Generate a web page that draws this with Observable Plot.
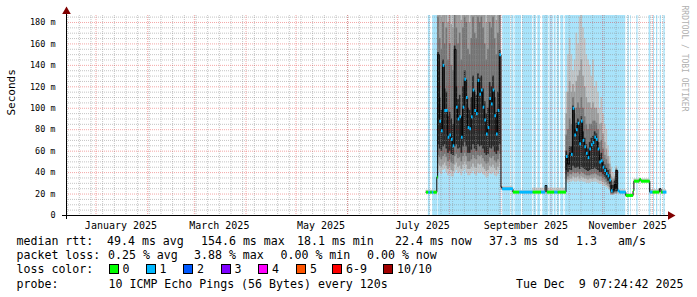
<!DOCTYPE html>
<html><head><meta charset="utf-8">
<script src="https://cdn.jsdelivr.net/npm/d3@7"></script>
<script src="https://cdn.jsdelivr.net/npm/@observablehq/plot@0.6"></script>
<style>
body{margin:0;background:#fff;}
#wrap{position:relative;width:697px;height:297px;font-family:"DejaVu Sans Mono",monospace;overflow:hidden;}
#wrap svg{position:absolute;left:0;top:0;}
.lg{position:absolute;font-size:11.6px;white-space:pre;line-height:14px;color:#000;}
.sq{display:inline-block;width:8px;height:8px;border:1px solid #000;vertical-align:-1px;margin-right:4px;}
</style></head><body><div id="wrap"></div>
<script>
// ---------- data ----------
const startTime = "2024-12-14T07:24:42Z";
const endTime = "2025-12-09T07:24:42Z";
const yMax = 186.5;
const yTicks = [0, 20, 40, 60, 80, 100, 120, 140, 160, 180];
const xLabelMonths = ["2025-01-01", "2025-03-01", "2025-05-01", "2025-07-01", "2025-09-01", "2025-11-01"];

// periods with loss background (1/10 lost)
const lossBands = [
  ["2025-07-19T10:00Z","2025-07-20T14:00Z"],["2025-07-22T00:00Z","2025-07-24T22:00Z"],
  ["2025-07-25T05:00Z","2025-09-01T10:00Z"],["2025-09-02T01:00Z","2025-09-06T20:00Z"],
  ["2025-09-07T10:00Z","2025-09-08T19:00Z"],["2025-09-09T10:00Z","2025-09-13T07:00Z"],
  ["2025-09-14T01:00Z","2025-09-20T01:00Z"],["2025-09-20T17:00Z","2025-09-22T07:00Z"],
  ["2025-09-23T02:00Z","2025-09-24T17:00Z"],["2025-09-26T02:00Z","2025-09-29T17:00Z"],
  ["2025-09-30T07:00Z","2025-10-02T08:00Z"],["2025-10-02T22:00Z","2025-10-04T03:00Z"],
  ["2025-10-04T18:00Z","2025-10-06T03:00Z"],["2025-10-06T21:00Z","2025-10-08T17:00Z"],
  ["2025-10-09T13:00Z","2025-11-14T21:00Z"],["2025-11-16T05:00Z","2025-11-17T00:00Z"],
  ["2025-11-17T21:00Z","2025-11-18T07:00Z"],["2025-11-21T12:00Z","2025-11-22T06:00Z"],
  ["2025-11-28T21:00Z","2025-11-29T21:00Z"],["2025-12-01T12:00Z","2025-12-02T03:00Z"],
  ["2025-12-03T07:00Z","2025-12-04T02:00Z"],["2025-12-05T13:00Z","2025-12-06T07:00Z"],
  ["2025-12-07T17:00Z","2025-12-08T13:00Z"]
];

// high-latency period 1, daily from 2025-07-25 (ms)
const r1Start = "2025-07-25";
const r1Median = [150,88,79,140,98,98,73,75,71,65,155,101,90,92,73,101,127,110,82,81,92,117,98,95,126,113,117,101,89,76,82,109,104,117,93,76,98,150];
const r1CoreLo = [66,62,60,64,66,62,58,60,57,56,64,66,62,63,58,64,68,64,58,58,61,66,62,60,66,64,65,62,58,56,57,63,62,64,59,57,60,66];
const r1CoreHi = [152,110,98,145,118,115,92,96,90,85,158,120,108,112,92,120,135,126,100,98,110,130,115,112,132,128,130,118,106,95,100,124,120,130,110,96,115,154];
const r1InLo   = [56,54,52,55,57,54,50,52,49,48,55,57,53,54,50,55,58,55,50,50,52,56,53,52,56,55,56,53,50,48,49,54,53,55,51,49,52,57];
const r1InHi   = [185,165,155,180,160,175,145,160,140,135,195,175,160,170,145,175,185,180,155,150,165,185,170,165,185,180,185,175,160,145,155,180,175,185,165,150,170,195];
const r1MidLo  = [48,46,45,47,49,46,43,45,42,41,47,49,45,46,43,47,50,47,43,43,45,48,45,44,48,47,48,45,43,41,42,46,45,47,44,42,45,49];
const r1MidHi  = [200,200,185,200,195,200,180,200,178,175,200,200,195,200,182,200,200,200,190,180,200,200,200,195,200,200,200,200,195,180,190,200,200,200,200,182,200,200];
const r1OutLo  = [42,40,38,42,43,40,37,39,36,36,40,42,39,40,37,41,43,40,37,37,39,41,38,37,40,39,40,38,37,35,36,39,38,40,37,36,38,42];
const r1OutHi  = [200,200,200,200,200,200,200,200,200,200,200,200,200,200,200,200,200,200,200,200,200,200,200,200,200,200,200,200,200,200,200,200,200,200,200,200,200,200];
const r1Dot    = [0,1,1,1,1,1,1,1,1,1,0,1,1,1,1,1,1,1,1,1,1,1,1,1,1,1,1,1,1,1,1,1,1,1,1,1,1,1];

// high-latency period 2, daily from 2025-10-10 (ms)
const r2Start = "2025-10-10";
const r2Median = [55,48,58,57,100,75,80,86,67,88,70,64,58,54,62,66,68,73,71,62,50,51,45,42,39,37,33,23,24,29,42];
const r2CoreLo = [42,40,42,42,46,44,44,45,43,45,44,43,42,41,42,43,43,44,43,42,40,40,38,36,34,32,29,21,21,22,22];
const r2CoreHi = [60,56,64,64,102,80,86,90,76,92,78,72,66,62,68,72,74,78,76,68,56,58,50,47,44,42,38,28,28,32,42];
const r2InLo   = [38,36,38,38,40,39,39,40,38,40,39,38,37,37,37,38,38,39,38,37,36,36,34,33,31,29,26,20,20,21,21];
const r2InHi   = [75,80,90,85,110,95,100,105,100,110,100,92,85,80,85,85,88,88,86,80,68,70,62,56,52,48,43,32,31,34,43];
const r2MidLo  = [34,33,34,34,36,35,35,36,34,36,35,34,34,33,34,34,34,35,34,33,32,32,31,30,28,27,24,19,19,20,20];
const r2MidHi  = [95,115,125,115,122,115,125,130,135,145,130,120,110,105,105,100,105,100,100,95,85,86,76,68,62,55,48,36,34,36,44];
const r2OutLo  = [31,30,31,31,32,31,31,32,31,32,31,31,30,30,30,31,31,31,31,30,29,29,28,27,26,25,23,19,19,20,20];
const r2OutHi  = [115,150,165,150,135,145,170,160,185,195,175,165,150,145,140,130,145,120,125,115,100,110,95,85,80,65,55,45,40,38,46];
const r2Dot    = [1,0,0,1,1,1,1,1,1,1,1,1,1,1,1,1,1,1,1,1,1,1,1,1,1,1,1,1,0,0,0];

// low-latency median steps: [time, median ms, loss count (0 or 1; -1 = no colour)]
const lowMedian = [
  ["2025-07-18T00:00Z",21.7,0],["2025-07-19T10:00Z",21.7,1],["2025-07-20T14:00Z",21.7,0],
  ["2025-07-21T12:00Z",21.7,1],["2025-07-22T12:00Z",21.7,0],["2025-07-24T12:00Z",35.7,0],
  ["2025-09-01T00:00Z",26.4,-1],["2025-09-01T16:00Z",24.9,1],["2025-09-08T04:00Z",21.8,0],
  ["2025-09-12T00:00Z",21.8,1],["2025-09-20T00:00Z",21.8,0],["2025-09-25T00:00Z",21.8,1],
  ["2025-09-27T12:00Z",28,-1],["2025-09-28T12:00Z",21.8,0],["2025-10-03T00:00Z",21.8,1],
  ["2025-10-05T00:00Z",21.8,0],
  ["2025-11-09T00:00Z",25,-1],["2025-11-10T00:00Z",23,1],["2025-11-11T00:00Z",21.8,1],
  ["2025-11-14T21:00Z",18.7,0],["2025-11-19T06:00Z",23,0],["2025-11-19T18:00Z",32,0],
  ["2025-11-23T00:00Z",33.5,0],["2025-11-24T00:00Z",32,0],["2025-11-29T06:00Z",21.8,1],
  ["2025-12-01T00:00Z",21.8,0],["2025-12-05T00:00Z",25,-1],["2025-12-06T00:00Z",21.8,0],
  ["2025-12-07T00:00Z",21.8,1],["2025-12-09T07:00Z",21.8,0]
];
// thin smoke in quiet periods: [from, to, low ms, high ms]
const thinSmoke = [
  ["2025-07-18T00:00Z","2025-07-24T12:00Z",20.5,23.5],["2025-09-01T00:00Z","2025-09-08T04:00Z",23.5,27],
  ["2025-09-08T04:00Z","2025-09-20T00:00Z",20.8,23],["2025-09-20T00:00Z","2025-10-09T17:00Z",20.5,25.5],
  ["2025-11-09T00:00Z","2025-11-14T21:00Z",20,24],["2025-11-14T21:00Z","2025-11-19T18:00Z",17.5,20],
  ["2025-11-19T18:00Z","2025-11-29T06:00Z",30.5,34],["2025-11-29T06:00Z","2025-12-09T07:00Z",20.5,24]
];

// ---------- build tables ----------
const T0 = new Date(startTime), T1 = new Date(endTime);
function regionRows(s, med, cl, ch, il, ih, ml, mh, ol, oh, dot) {
  const s0 = new Date(s + "T00:00Z");
  return med.map((m, i) => ({
    x1: d3.utcDay.offset(s0, i), x2: d3.utcDay.offset(s0, i + 1),
    m, cl: cl[i], ch: ch[i], il: il[i], ih: ih[i], ml: ml[i], mh: mh[i], ol: ol[i], oh: oh[i], dot: dot[i]
  }));
}
const r1 = regionRows(r1Start, r1Median, r1CoreLo, r1CoreHi, r1InLo, r1InHi, r1MidLo, r1MidHi, r1OutLo, r1OutHi, r1Dot);
const r2 = regionRows(r2Start, r2Median, r2CoreLo, r2CoreHi, r2InLo, r2InHi, r2MidLo, r2MidHi, r2OutLo, r2OutHi, r2Dot);
const smoke = r1.concat(r2);

const lowRows = lowMedian.map(d => ({x1: new Date(d[0]), m: d[1], loss: d[2]}));
let med = lowRows.concat(smoke.map(d => ({x1: d.x1, m: d.m, loss: d.dot ? 1 : -1})));
med.sort((a, b) => a.x1 - b.x1);
med.forEach((d, i) => { d.x2 = i < med.length - 1 ? med[i + 1].x1 : d.x1; });
const medLine = med.map(d => ({x: d.x1, m: d.m}));
const lossColor = {0: "#00ff00", 1: "#00b8ff"};
const segs = med.filter(d => d.loss >= 0);

const sundays = d3.utcSunday.range(T0, T1);
const months = d3.utcMonth.range(T0, T1);
const minorY = d3.range(0, yMax, 5).filter(v => v % 20 !== 0);
const labelTicks = xLabelMonths.map(s => d3.utcDay.offset(new Date(s + "T00:00Z"), 15));

const gridGray = {stroke: "#8c8c8c", strokeOpacity: 0.5, strokeDasharray: "1,1", strokeWidth: 1};
const gridRed = {stroke: "#e00000", strokeOpacity: 0.35, strokeDasharray: "1,1", strokeWidth: 1};

const chart = Plot.plot({
  width: 697, height: 234,
  marginLeft: 66, marginRight: 31, marginTop: 15, marginBottom: 19,
  style: {fontFamily: "'DejaVu Sans Mono', monospace", background: "transparent", overflow: "visible"},
  x: {type: "utc", domain: [T0, T1]},
  y: {domain: [0, yMax]},
  marks: [
    Plot.rect(lossBands, {x1: d => new Date(d[0]), x2: d => new Date(d[1]), y1: 0, y2: yMax, fill: "#a9e4fb"}),
    Plot.rect(thinSmoke, {x1: d => new Date(d[0]), x2: d => new Date(d[1]), y1: d => d[2], y2: d => d[3], fill: "#c8c8c8"}),
    Plot.rect(smoke, {x1: "x1", x2: "x2", y1: "ol", y2: "oh", fill: "#c2c2c2", clip: true}),
    Plot.rect(smoke, {x1: "x1", x2: "x2", y1: "ml", y2: "mh", fill: "#9c9c9c", clip: true}),
    Plot.rect(smoke, {x1: "x1", x2: "x2", y1: "il", y2: "ih", fill: "#737373", clip: true}),
    Plot.rect(smoke, {x1: "x1", x2: "x2", y1: "cl", y2: "ch", fill: "#262626", clip: true}),
    Plot.ruleX(sundays, {...gridGray}),
    Plot.ruleY(minorY, {...gridGray}),
    Plot.ruleX(months, {...gridRed}),
    Plot.ruleY(yTicks.slice(1), {...gridRed}),
    Plot.line(medLine, {x: "x", y: "m", curve: "step-after", stroke: "#000", strokeWidth: 1, clip: true}),
    Plot.link(segs, {x1: "x1", x2: "x2", y1: "m", y2: "m", stroke: d => lossColor[d.loss], strokeWidth: 3}),
    Plot.ruleY([0], {stroke: "#000", insetLeft: -4, insetRight: -3}),
    Plot.ruleX([T0], {stroke: "#000", insetTop: -3, insetBottom: -4}),
    Plot.dot([T1], {x: d => d, y: 0, symbol: "triangle", r: 3.2, fill: "#800000", rotate: 90, dx: 4}),
    Plot.dot([T0], {x: d => d, y: yMax, symbol: "triangle", r: 3.2, fill: "#800000", dy: -4}),
    Plot.axisX({ticks: labelTicks, tickFormat: d3.utcFormat("%B %Y"), tickSize: 0, tickPadding: 6, fontSize: 10, label: null}),
    Plot.axisY({ticks: yTicks, tickFormat: d => d === 0 ? "0" : d + " m", tickSize: 0, tickPadding: 11, fontSize: 8.5, label: null}),
    Plot.text(["Seconds"], {frameAnchor: "left", dx: -55, rotate: -90, fontSize: 11}),
    Plot.text(["RRDTOOL / TOBI OETIKER"], {frameAnchor: "top-right", dx: 21, dy: -10, rotate: 90, textAnchor: "start", fontSize: 8, fill: "#b0b0b0"})
  ]
});
const wrap = document.getElementById("wrap");
wrap.appendChild(chart);

// ---------- legend ----------
const legendLines = [
  {top: 234, items: [[16.5, "median rtt:"], [107, "49.4 ms avg"], [201, "154.6 ms max"], [297, "18.1 ms min"], [395, "22.4 ms now"], [489, "37.3 ms sd"], [576, "1.3"], [618, "am/s"]]},
  {top: 248, items: [[16.5, "packet loss:"], [108, "0.25 % avg"], [194, "3.88 % max"], [280.5, "0.00 % min"], [367, "0.00 % now"]]},
  {top: 262, items: [[16.5, "loss color:"]]},
  {top: 277, items: [[16.5, "probe:"], [108.5, "10 ICMP Echo Pings (56 Bytes) every 120s"]]}
];
const lossLabels = ["0", "1", "2", "3", "4", "5", "6-9", "10/10"];
const lossColors = ["#00ff00", "#00b8ff", "#0059ff", "#7e00ff", "#ff00ff", "#ff5500", "#ff0000", "#a10000"];
const lossX = [108.5, 145.5, 183, 220.5, 258, 296, 332, 383];
function addText(top, left, text) {
  const el = document.createElement("div");
  el.className = "lg"; el.style.top = top + "px"; el.style.left = left + "px";
  el.textContent = text; wrap.appendChild(el); return el;
}
legendLines.forEach(l => l.items.forEach(([x, t]) => addText(l.top, x, t)));
lossLabels.forEach((t, i) => {
  const el = addText(262, lossX[i], "");
  const sq = document.createElement("span"); sq.className = "sq"; sq.style.background = lossColors[i];
  el.appendChild(sq); el.appendChild(document.createTextNode(t));
});
const dateEl = addText(277, 0, "Tue Dec  9 07:24:42 2025");
dateEl.style.left = "auto"; dateEl.style.right = "13.5px";
</script></body></html>
